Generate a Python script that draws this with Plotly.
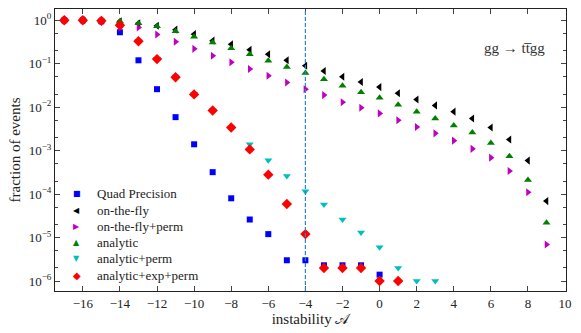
import plotly.graph_objects as go

# instability values
quad_x = list(range(-17, 1))
quad_y = [1.0, 1.0, 0.95, 0.53, 0.12, 0.026, 0.0059, 0.0014, 3.2e-4, 8e-5,
          2.6e-5, 1.2e-5, 3e-6, 3e-6, 2.3e-6, 2.3e-6, 2.3e-6, 1.4e-6]

fly_x = list(range(-17, 10))
fly_y = [1.0, 1.0, 0.98, 0.95, 0.85, 0.75, 0.61, 0.48, 0.34, 0.28, 0.21, 0.165,
         0.12, 0.09, 0.068, 0.05, 0.038, 0.029, 0.021, 0.015, 0.011, 0.0079,
         0.0055, 0.0034, 0.0018, 5.9e-4, 6.9e-5]

flyperm_x = list(range(-17, 10))
flyperm_y = [1.0, 1.0, 0.97, 0.68, 0.68, 0.47, 0.32, 0.22, 0.153, 0.108, 0.076,
             0.053, 0.037, 0.026, 0.019, 0.013, 0.0097, 0.0072, 0.005, 0.0035,
             0.0025, 0.0017, 0.0011, 6.9e-4, 3.4e-4, 1.1e-4, 6.9e-6]

ana_x = list(range(-17, 10))
ana_y = [1.0, 1.0, 0.98, 0.95, 0.85, 0.73, 0.56, 0.42, 0.31, 0.227, 0.165, 0.117,
         0.084, 0.061, 0.044, 0.031, 0.022, 0.0165, 0.0114, 0.0079, 0.0055,
         0.0038, 0.0026, 0.0015, 7.4e-4, 2.1e-4, 2.2e-5]

anaperm_x = list(range(-17, 4))
anaperm_y = [1.0, 1.0, 0.97, 0.78, 0.34, 0.13, 0.051, 0.02, 0.0085, 0.0034,
             1.4e-3, 6e-4, 2.6e-4, 1.17e-4, 5.8e-5, 2.6e-5, 1.3e-5, 6e-6, 2e-6,
             1e-6, 1e-6]

exp_x = list(range(-17, 2))
exp_y = [1.0, 1.0, 0.97, 0.77, 0.33, 0.128, 0.049, 0.0197, 0.0084, 0.0034,
         0.00107, 2.8e-4, 5.9e-5, 1.2e-5, 2e-6, 2e-6, 2e-6, 1e-6, 1e-6]

# name, x, y, plotly symbol, legend glyph, colour, size
series = [
    ("Quad Precision", quad_x, quad_y, "square", "\u25A0", "#0000ff", 6),
    ("on-the-fly", fly_x, fly_y, "triangle-left", "\u25C0", "#000000", 7),
    ("on-the-fly+perm", flyperm_x, flyperm_y, "triangle-right", "\u25B6", "#bf00bf", 7),
    ("analytic", ana_x, ana_y, "triangle-up", "\u25B2", "#008000", 7),
    ("analytic+perm", anaperm_x, anaperm_y, "triangle-down", "\u25BC", "#00bfbf", 7),
    ("analytic+exp+perm", exp_x, exp_y, "diamond", "\u25C6", "#ff0000", 8),
]

ytick_vals = [1e0, 1e-1, 1e-2, 1e-3, 1e-4, 1e-5, 1e-6]
ytick_text = ["10<sup>0</sup>", "10<sup>\u22121</sup>", "10<sup>\u22122</sup>",
              "10<sup>\u22123</sup>", "10<sup>\u22124</sup>", "10<sup>\u22125</sup>",
              "10<sup>\u22126</sup>"]
xtick_vals = list(range(-16, 11, 2))
xtick_text = [str(v).replace("-", "\u2212") for v in xtick_vals]

fig = go.Figure()
for name, xs, ys, sym, glyph, col, sz in series:
    fig.add_trace(go.Scatter(x=xs, y=ys, mode='markers', name=name, showlegend=False,
                             marker=dict(symbol=sym, color=col, size=sz, line=dict(width=0))))

# legend drawn by hand so the rows can be packed as tight as the original
row_top, row_step = 0.344, 0.0575
for i, (name, xs, ys, sym, glyph, col, sz) in enumerate(series):
    yy = row_top - i * row_step
    fig.add_annotation(x=0.043, y=yy, xref="paper", yref="paper", text=glyph, showarrow=False,
                       xanchor="center", yanchor="middle",
                       font=dict(family="DejaVu Sans", size=8 if glyph != "\u25C6" else 10, color=col))
    fig.add_annotation(x=0.078, y=yy, xref="paper", yref="paper", text=name, showarrow=False,
                       xanchor="left", yanchor="middle", font=dict(size=13, color="#222"))

fig.add_vline(x=-4, line=dict(color="#2a86c8", width=1.2, dash="4px,2px"))

fig.add_annotation(x=0.963, y=0.862, xref="paper", yref="paper", text="gg \u2192 t\u0074\u0305gg",
                   showarrow=False, xanchor="right", yanchor="middle", font=dict(size=15, color="#333"))

font_family = "Liberation Serif, DejaVu Serif, serif"
fig.update_layout(
    width=581, height=333,
    margin=dict(l=55, r=15, t=9, b=42),
    plot_bgcolor="white", paper_bgcolor="white",
    font=dict(family=font_family, size=13, color="#222"),
    showlegend=False,
    xaxis=dict(range=[-17.5, 10.05], tickvals=xtick_vals, ticktext=xtick_text,
               ticks="inside", ticklen=5, mirror="ticks", showline=True, linecolor="#222",
               linewidth=1, showgrid=False, zeroline=False, automargin=False,
               tickfont=dict(size=13),
               title=dict(text="instability \U0001D49C", standoff=2, font=dict(size=15))),
    yaxis=dict(type="log", range=[-6.23, 0.26], tickvals=ytick_vals, ticktext=ytick_text,
               ticks="inside", ticklen=5, mirror="ticks", showline=True, linecolor="#222",
               linewidth=1, showgrid=False, zeroline=False, automargin=False,
               tickfont=dict(size=13),
               title=dict(text="fraction of events", standoff=4, font=dict(size=15)),
               minor=dict(ticks="inside", ticklen=3, showgrid=False)),
)

fig.write_html("out.html", config={"displayModeBar": False},
               post_script="document.body.style.margin='0';")
